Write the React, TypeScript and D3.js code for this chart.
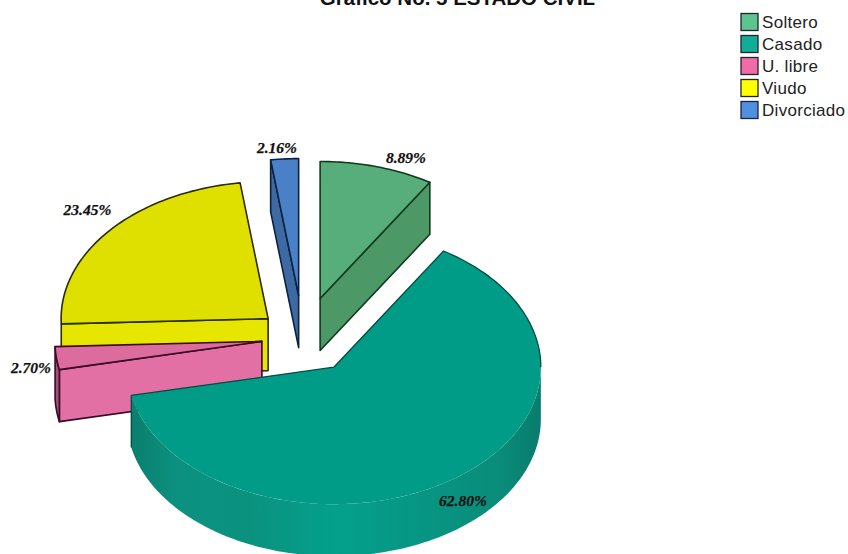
import React from "react";
import * as d3 from "d3";

// Marital status shares, in percent, clockwise from twelve o'clock.
const categories = ["Soltero", "Casado", "U. libre", "Viudo", "Divorciado"];
const shares = [8.89, 62.8, 2.7, 23.45, 2.16];
const shareLabels = ["8.89%", "62.80%", "2.70%", "23.45%", "2.16%"];
const explodeFractions = [0.3, 0.26, 0.2, 0.22, 0.31];

const legendColors = ["#5cc48c", "#10ae98", "#f06ca8", "#ffff00", "#5090e0"];
const topColors = ["#57ae7b", "#009c88", "#dc6c9e", "#dfdf00", "#4a80c8"];
const wallColors = ["#4c9866", "#0a8c7a", "#e270a4", "#e6e600", "#3d6aa3"];
const edgeColors = ["#0f3a1c", "#044a40", "#3a0a26", "#2c2c06", "#0a2240"];

const WIDTH = 848;
const HEIGHT = 554;
const CX = 303;
const CY = 338;
const RX = 207;
const RY = 137;
const DEPTH = 52;
const TAU = Math.PI * 2;
const EDGE = 1.6;

// Tilted-disc projection: angle runs clockwise from the top of the ellipse.
const xOf = (a: number) => RX * Math.sin(a);
const yOf = (a: number) => -RY * Math.cos(a);

const line = d3.line<[number, number]>();

function arcPoints(a0: number, a1: number, ox: number, oy: number): [number, number][] {
  const n = Math.max(2, Math.ceil(Math.abs(a1 - a0) / 0.02));
  return d3.range(n + 1).map((i) => {
    const a = a0 + ((a1 - a0) * i) / n;
    return [ox + xOf(a), oy + yOf(a)] as [number, number];
  });
}

const pieAngles = d3
  .pie<number>()
  .sort(null)
  .startAngle(0)
  .endAngle(TAU)(shares);

const slices = pieAngles.map((p, i) => {
  const mid = (p.startAngle + p.endAngle) / 2;
  const k = explodeFractions[i];
  return {
    i,
    a0: p.startAngle,
    a1: p.endAngle,
    mid,
    ox: CX + k * xOf(mid),
    oy: CY + k * yOf(mid),
  };
});

const closed = (pts: [number, number][]) => (line(pts) ?? "") + "Z";

const wallGradientStops = [
  [0, "#0a7d6d"],
  [0.12, "#0c9180"],
  [0.3, "#0a927f"],
  [0.5, "#04a08c"],
  [0.72, "#079582"],
  [0.9, "#0a8c7a"],
  [1, "#087c6c"],
] as const;

export default function App() {
  const [soltero, casado, libre, viudo, divorciado] = slices;

  const flatWall = (s: typeof soltero, a: number) => {
    const ex = s.ox + xOf(a);
    const ey = s.oy + yOf(a);
    return closed([
      [s.ox, s.oy],
      [ex, ey],
      [ex, ey + DEPTH],
      [s.ox, s.oy + DEPTH],
    ]);
  };

  const topFace = (s: typeof soltero) =>
    closed([[s.ox, s.oy], ...arcPoints(s.a0, s.a1, s.ox, s.oy)]);

  const outerWall = (s: typeof soltero, a0: number, a1: number) => {
    const upper = arcPoints(a0, a1, s.ox, s.oy);
    const lower = arcPoints(a1, a0, s.ox, s.oy + DEPTH);
    return closed([...upper, ...lower]);
  };

  const casadoOutline =
    line([
      ...arcPoints(Math.PI / 2, casado.a0, casado.ox, casado.oy),
      [casado.ox, casado.oy],
      [casado.ox + xOf(casado.a1), casado.oy + yOf(casado.a1)],
      [casado.ox + xOf(casado.a1), casado.oy + yOf(casado.a1) + DEPTH],
    ]) ?? "";

  const labelStyle = {
    fontFamily: "'Liberation Serif', serif",
    fontSize: 15.5,
    fontWeight: 700,
    fontStyle: "italic" as const,
    fill: "#111",
    stroke: "#111",
    strokeWidth: 0.25,
  };

  const labelPositions: [number, number][] = [
    [406, 157],
    [463, 500],
    [31, 367],
    [87.5, 209],
    [277, 147],
  ];

  return (
    <svg
      width={WIDTH}
      height={HEIGHT}
      viewBox={`0 0 ${WIDTH} ${HEIGHT}`}
      style={{ position: "absolute", left: 0, top: 0, background: "#fff" }}
    >
      <defs>
        <linearGradient id="casadoWall" x1={casado.ox - RX} x2={casado.ox + RX} y1={0} y2={0} gradientUnits="userSpaceOnUse">
          {wallGradientStops.map(([o, c]) => (
            <stop key={o} offset={o} stopColor={c} />
          ))}
        </linearGradient>
      </defs>

      <text
        x={457.5}
        y={4.5}
        textAnchor="middle"
        style={{ fontFamily: "'Liberation Sans', sans-serif", fontSize: 20.5, fontWeight: 700, fill: "#111" }}
      >
        Gráfico No. 5 ESTADO CIVIL
      </text>

      {/* Soltero */}
      <path d={flatWall(soltero, soltero.a1)} fill={wallColors[0]} stroke={edgeColors[0]} strokeWidth={EDGE} strokeLinejoin="round" />
      <path d={topFace(soltero)} fill={topColors[0]} stroke={edgeColors[0]} strokeWidth={EDGE} strokeLinejoin="round" />

      {/* Divorciado */}
      <path d={flatWall(divorciado, divorciado.a0)} fill={wallColors[4]} stroke={edgeColors[4]} strokeWidth={EDGE} strokeLinejoin="round" />
      <path d={topFace(divorciado)} fill={topColors[4]} stroke={edgeColors[4]} strokeWidth={EDGE} strokeLinejoin="round" />

      {/* Viudo */}
      <path d={flatWall(viudo, viudo.a0)} fill={wallColors[3]} stroke={edgeColors[3]} strokeWidth={EDGE} strokeLinejoin="round" />
      <path d={topFace(viudo)} fill={topColors[3]} stroke={edgeColors[3]} strokeWidth={EDGE} strokeLinejoin="round" />

      {/* U. libre */}
      <path d={flatWall(libre, libre.a0)} fill={wallColors[2]} stroke={edgeColors[2]} strokeWidth={EDGE} strokeLinejoin="round" />
      <path d={outerWall(libre, libre.a0, libre.a1)} fill="#a84c78" stroke={edgeColors[2]} strokeWidth={EDGE} strokeLinejoin="round" />
      <path d={topFace(libre)} fill={topColors[2]} stroke={edgeColors[2]} strokeWidth={EDGE} strokeLinejoin="round" />

      {/* Casado: only the part of the rim facing the viewer is drawn */}
      <path d={outerWall(casado, Math.PI / 2, casado.a1)} fill="url(#casadoWall)" />
      <path d={topFace(casado)} fill={topColors[1]} />
      <path d={casadoOutline} fill="none" stroke={edgeColors[1]} strokeWidth={1.3} strokeLinejoin="round" />

      {shareLabels.map((t, i) => (
        <text key={t} x={labelPositions[i][0]} y={labelPositions[i][1]} textAnchor="middle" dominantBaseline="central" style={labelStyle}>
          {t}
        </text>
      ))}

      {/* Legend */}
      {categories.map((c, i) => (
        <g key={c} transform={`translate(741,${13.5 + i * 22})`}>
          <rect x={0} y={0} width={17} height={17} fill={legendColors[i]} stroke="#223" strokeWidth={1.3} />
          <text x={21} y={14.5} style={{ fontFamily: "'Liberation Sans', sans-serif", fontSize: 17, fill: "#222", letterSpacing: 0.3 }}>
            {c}
          </text>
        </g>
      ))}
    </svg>
  );
}
